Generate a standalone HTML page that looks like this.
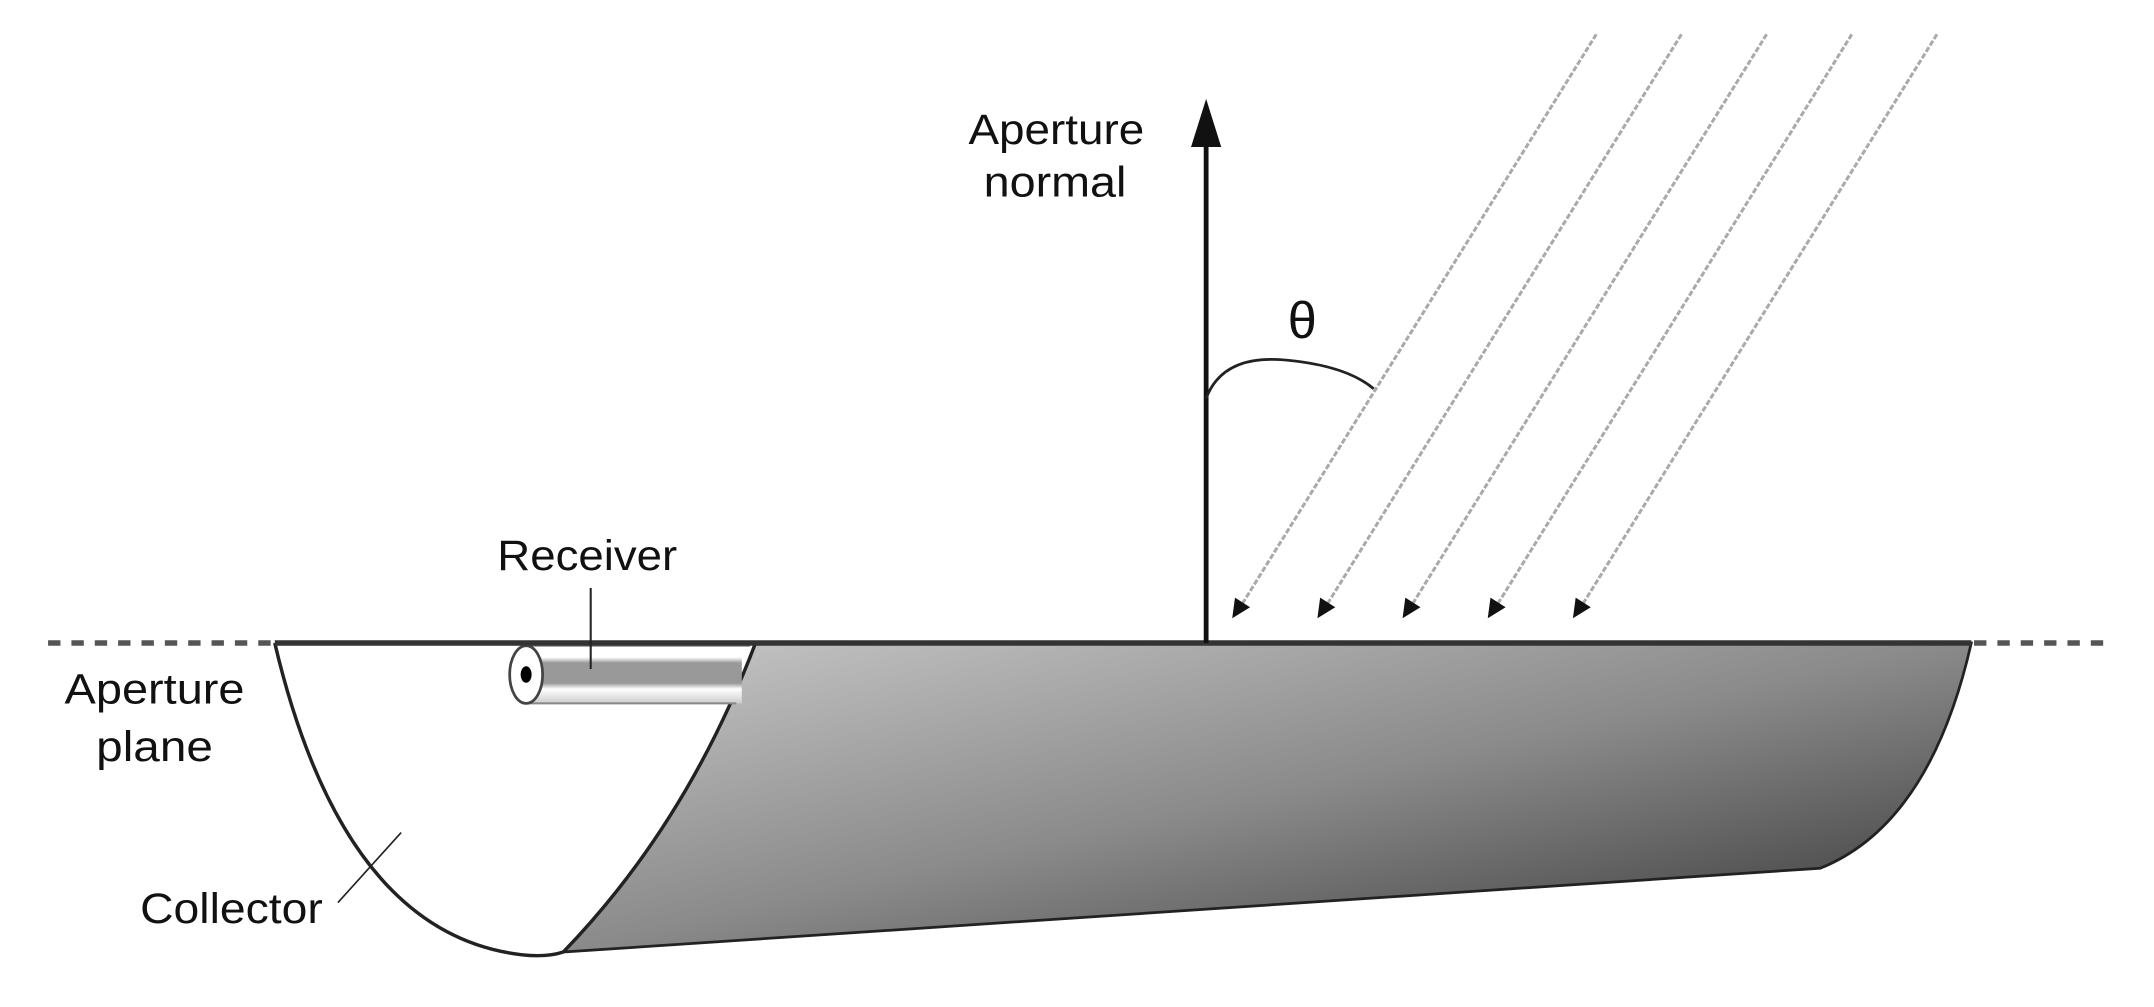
<!DOCTYPE html>
<html><head><meta charset="utf-8"><style>
html,body{margin:0;padding:0;background:#fff;}
svg{display:block;}
text{font-family:"Liberation Sans",Arial,sans-serif;fill:#111;}
</style></head><body>
<svg width="2154" height="1007" viewBox="0 0 1568 733" preserveAspectRatio="none" xmlns="http://www.w3.org/2000/svg">
<defs>
<linearGradient id="g" x1="0" y1="0" x2="1" y2="1">
<stop offset="0" stop-color="#c8c8c8"/>
<stop offset="0.5" stop-color="#8a8a8a"/>
<stop offset="1" stop-color="#333"/>
</linearGradient>
<linearGradient id="t" x1="0" y1="0" x2="0" y2="1">
<stop offset="0" stop-color="#fff"/>
<stop offset="0.2" stop-color="#fff"/>
<stop offset="0.3" stop-color="#999"/>
<stop offset="0.65" stop-color="#999"/>
<stop offset="0.75" stop-color="#fff"/>
<stop offset="1" stop-color="#ccc"/>
</linearGradient>
</defs>
<line x1="35" y1="468" x2="200" y2="468" stroke="#555" stroke-width="4" stroke-dasharray="9,8"/>
<line x1="1437" y1="468" x2="1532" y2="468" stroke="#555" stroke-width="4" stroke-dasharray="9,8"/>
<path d="M550,468 L1435,468 Q1405,600 1325,632 Q870,662 410,693 Q500,600 550,468 Z" fill="url(#g)" stroke="#222" stroke-width="2"/>
<path d="M200,468 Q260,690 385,695 L410,693 Q500,600 550,468 Z" fill="#fff" stroke="none"/>
<path d="M200,468 Q250,680 380,695 Q398,697 410,693" fill="none" stroke="#222" stroke-width="2.5"/>
<path d="M410,693 Q500,600 550,468" fill="none" stroke="#222" stroke-width="2.5"/>
<rect x="383" y="470" width="157" height="42" fill="url(#t)"/>
<line x1="383" y1="470" x2="546" y2="470" stroke="#888" stroke-width="1.5"/>
<line x1="383" y1="512" x2="536" y2="512" stroke="#888" stroke-width="1.5"/>
<ellipse cx="383" cy="491" rx="12" ry="21" fill="#fff" stroke="#444" stroke-width="2"/>
<ellipse cx="383" cy="491" rx="4" ry="6" fill="#000"/>
<line x1="200" y1="468" x2="1435" y2="468" stroke="#333" stroke-width="4"/>
<line x1="878" y1="468" x2="878" y2="100" stroke="#111" stroke-width="3.5"/>
<polygon points="878,72 867,107 889,107" fill="#111"/>
<path d="M878,290 Q890,258 935,262 Q980,266 1000,283" fill="none" stroke="#222" stroke-width="2"/>
<text x="948" y="246" font-size="38" text-anchor="middle">θ</text>
<g stroke="#aaa" stroke-width="2.2" stroke-dasharray="4,1.5">
<line x1="1162" y1="25" x2="904" y2="440"/>
<line x1="1224" y1="25" x2="966" y2="440"/>
<line x1="1286" y1="25" x2="1028" y2="440"/>
<line x1="1348" y1="25" x2="1090" y2="440"/>
<line x1="1410" y1="25" x2="1152" y2="440"/>
</g>
<g fill="#111">
<polygon points="897,450 899,435 910,442"/>
<polygon points="959,450 961,435 972,442"/>
<polygon points="1021,450 1023,435 1034,442"/>
<polygon points="1083,450 1085,435 1096,442"/>
<polygon points="1145,450 1147,435 1158,442"/>
</g>
<text x="705" y="105" font-size="31" textLength="128" lengthAdjust="spacingAndGlyphs">Aperture</text>
<text x="716" y="143" font-size="31" textLength="104" lengthAdjust="spacingAndGlyphs">normal</text>
<text x="362" y="415" font-size="31" textLength="131" lengthAdjust="spacingAndGlyphs">Receiver</text>
<line x1="430" y1="428" x2="430" y2="487" stroke="#222" stroke-width="1.5"/>
<text x="47" y="512" font-size="31" textLength="131" lengthAdjust="spacingAndGlyphs">Aperture</text>
<text x="70" y="554" font-size="31" textLength="85" lengthAdjust="spacingAndGlyphs">plane</text>
<text x="102" y="672" font-size="31" textLength="133" lengthAdjust="spacingAndGlyphs">Collector</text>
<line x1="246" y1="657" x2="292" y2="606" stroke="#222" stroke-width="1.2"/>
</svg>
</body></html>
